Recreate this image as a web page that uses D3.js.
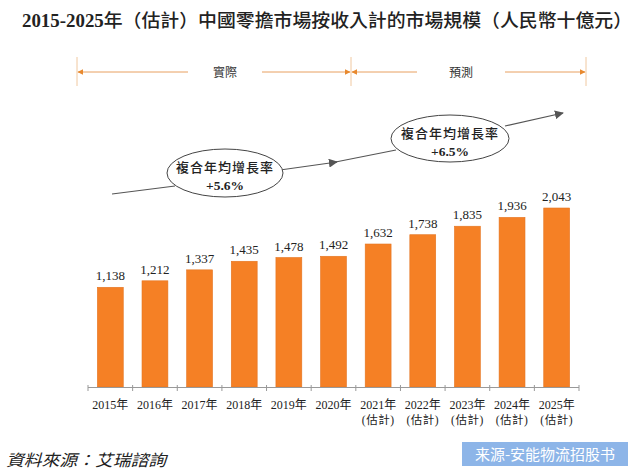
<!DOCTYPE html>
<html><head><meta charset="utf-8">
<script src="https://cdn.jsdelivr.net/npm/d3@7/dist/d3.min.js"></script>
<style>body{margin:0;background:#fff;}svg{display:block;}</style>
</head><body>
<script>
const years = ["2015","2016","2017","2018","2019","2020","2021","2022","2023","2024","2025"];
const values = [1138,1212,1337,1435,1478,1492,1632,1738,1835,1936,2043];
const estimated = [false,false,false,false,false,false,true,true,true,true,true];
const titleParts = [["2015-2025","num"],["年（估計）中國零擔市場按收入計的市場規模（人民幣十億元）","cjk"]];
const periodLabels = ["實際","預測"];
const cagrLabels = [["複合年均增長率","+5.6%"],["複合年均增長率","+6.5%"]];
const sourceText = "資料來源：艾瑞諮詢";
const watermark = "来源-安能物流招股书";

const W=640,H=474;
const svg=d3.select("body").append("svg").attr("width",W).attr("height",H);
const defs=svg.append("defs");
defs.append("marker").attr("id","arrG").attr("viewBox","0 0 10 10").attr("refX",9).attr("refY",5)
 .attr("markerWidth",9).attr("markerHeight",9).attr("markerUnits","userSpaceOnUse").attr("orient","auto")
 .append("path").attr("d","M0,0L10,5L0,10z").attr("fill","#555");
defs.append("marker").attr("id","arrO").attr("viewBox","0 0 10 10").attr("refX",9).attr("refY",5)
 .attr("markerWidth",6).attr("markerHeight",6).attr("markerUnits","userSpaceOnUse").attr("orient","auto-start-reverse")
 .append("path").attr("d","M0,0L10,5L0,10z").attr("fill","#e8892e");

const serif='"Liberation Serif","Times New Roman","Noto Sans CJK TC",serif';
const cjk='"Noto Sans CJK TC","Noto Sans CJK SC",sans-serif';

// Title
const t=svg.append("text").attr("x",22).attr("y",27).attr("fill","#222").attr("font-size",18)
 .attr("textLength",610).attr("lengthAdjust","spacingAndGlyphs");
titleParts.forEach(([s,k])=>{
  t.append("tspan").text(s).attr("font-family",k==="num"?serif:cjk).attr("font-weight",k==="num"?"bold":"500");
});

const x=d3.scaleBand().domain(years).range([88,579]).paddingInner(0.42).paddingOuter(0.21);
const y=d3.scaleLinear().domain([0,2043]).range([387,208]);
const step=x.step();

// Period bracket
const by=72;
const mid=x.range()[0]+step*6*1.0-step*0.0; // boundary between 2020 and 2021
const b0=77, b1=351, b2=586;
const brk=svg.append("g");
[b0,b1,b2].forEach(v=>brk.append("line").attr("x1",v).attr("x2",v).attr("y1",57).attr("y2",86).attr("stroke","#f0c8a0").attr("stroke-width",1));
const segs=[[b0+1,188],[262,b1-1],[b1+1,417],[505,b2-1]];
segs.forEach((s,i)=>{
  const l=brk.append("line").attr("y1",by).attr("y2",by).attr("stroke","#e8a060").attr("stroke-width",1);
  if(i%2===0){l.attr("x1",s[1]).attr("x2",s[0]).attr("marker-end","url(#arrO)");}
  else{l.attr("x1",s[0]).attr("x2",s[1]).attr("marker-end","url(#arrO)");}
});
brk.append("text").attr("x",225).attr("y",by+4.5).attr("text-anchor","middle").attr("font-family",cjk).attr("font-size",12).attr("fill","#333").text(periodLabels[0]);
brk.append("text").attr("x",461).attr("y",by+4.5).attr("text-anchor","middle").attr("font-family",cjk).attr("font-size",12).attr("fill","#333").text(periodLabels[1]);

// Trend line + ellipses
const tr=svg.append("g").attr("stroke","#555").attr("stroke-width",1.2).attr("fill","none");
tr.append("line").attr("x1",112).attr("y1",194).attr("x2",175).attr("y2",186);
tr.append("line").attr("x1",280).attr("y1",170).attr("x2",337).attr("y2",162).attr("marker-end","url(#arrG)");
tr.append("line").attr("x1",333).attr("y1",162.5).attr("x2",396).attr("y2",150);
tr.append("line").attr("x1",505).attr("y1",126).attr("x2",563).attr("y2",113).attr("marker-end","url(#arrG)");
const ells=[{cx:225,cy:173,rx:58,ry:24},{cx:450,cy:138.5,rx:59,ry:23.5}];
ells.forEach((e,i)=>{
  svg.append("ellipse").attr("cx",e.cx).attr("cy",e.cy).attr("rx",e.rx).attr("ry",e.ry).attr("fill","#fff").attr("stroke","#444").attr("stroke-width",1);
  svg.append("text").attr("x",e.cx).attr("y",e.cy-1).attr("text-anchor","middle").attr("font-family",cjk).attr("font-size",13).attr("font-weight",500).attr("letter-spacing",1).attr("fill","#222").text(cagrLabels[i][0]);
  svg.append("text").attr("x",e.cx).attr("y",e.cy+17).attr("text-anchor","middle").attr("font-family",serif).attr("font-size",13.5).attr("font-weight","bold").attr("fill","#222").text(cagrLabels[i][1]);
});

// Bars
svg.append("g").selectAll("rect").data(years).join("rect")
 .attr("x",d=>x(d)).attr("width",x.bandwidth())
 .attr("y",(d,i)=>y(values[i])).attr("height",(d,i)=>y(0)-y(values[i]))
 .attr("fill","#f58025").attr("stroke","#e47420").attr("stroke-width",0.6);
svg.append("g").selectAll("text").data(years).join("text")
 .attr("x",d=>x(d)+x.bandwidth()/2).attr("y",(d,i)=>y(values[i])-7)
 .attr("text-anchor","middle").attr("font-family",serif).attr("font-size",13).attr("fill","#222")
 .text((d,i)=>d3.format(",")(values[i]));

// Axis
const ax=svg.append("g");
ax.append("line").attr("x1",x.range()[0]).attr("x2",x.range()[1]).attr("y1",y(0)+0.5).attr("y2",y(0)+0.5).attr("stroke","#999");
d3.range(years.length+1).forEach(i=>{
  const xv=x.range()[0]+i*step;
  ax.append("line").attr("x1",xv).attr("x2",xv).attr("y1",y(0)-2).attr("y2",y(0)+4).attr("stroke","#999");
});
years.forEach((yr,i)=>{
  const cx=x(yr)+x.bandwidth()/2;
  ax.append("text").attr("x",cx).attr("y",409).attr("text-anchor","middle").attr("font-family",serif).attr("font-size",12).attr("fill","#222").text(yr+"年");
  if(estimated[i]) ax.append("text").attr("x",cx).attr("y",424).attr("text-anchor","middle").attr("font-family",serif).attr("font-size",11.5).attr("letter-spacing",0.5).attr("fill","#222").text("(估計)");
});

// Footer
svg.append("text").attr("x",6).attr("y",466).attr("font-family",'"Noto Sans CJK TC",serif').attr("font-size",16).attr("font-style","italic").attr("fill","#222")
 .attr("textLength",160).attr("lengthAdjust","spacingAndGlyphs").attr("transform","skewX(0)").text(sourceText);
svg.append("rect").attr("x",462).attr("y",442).attr("width",166).attr("height",24).attr("fill","#8db5e8");
svg.append("text").attr("x",545).attr("y",459.5).attr("text-anchor","middle").attr("font-family",'"Noto Sans CJK SC",sans-serif').attr("font-size",15).attr("fill","#fff").text(watermark);
</script>
</body></html>
